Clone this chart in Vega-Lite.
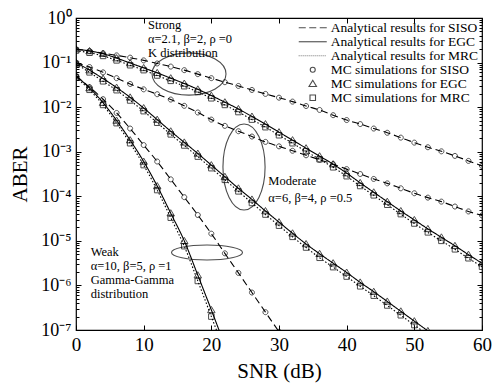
{
 "$schema": "https://vega.github.io/schema/vega-lite/v6.json",
 "width": 406, "height": 312,
 "autosize": "none",
 "padding": {"left": 76, "top": 18, "right": 11, "bottom": 56},
 "background": "white",
 "config": {
  "view": {"stroke": "black", "strokeWidth": 1.2},
  "font": "Liberation Serif",
  "axis": {"domain": false, "grid": false, "tickColor": "black", "tickWidth": 1, "labelColor": "black", "titleColor": "black", "labelFont": "Liberation Serif", "titleFont": "Liberation Serif", "titleFontWeight": "normal"}
 },
 "resolve": {"axis": {"x": "independent", "y": "independent"}},
 "datasets": {
  "curves": [
   {"g":"S","s":"SISO","x":0,"y":0.2},{"g":"S","s":"SISO","x":2,"y":0.182},{"g":"S","s":"SISO","x":4,"y":0.162},{"g":"S","s":"SISO","x":6,"y":0.145},{"g":"S","s":"SISO","x":8,"y":0.129},{"g":"S","s":"SISO","x":10,"y":0.112},{"g":"S","s":"SISO","x":12,"y":0.0955},{"g":"S","s":"SISO","x":14,"y":0.0813},{"g":"S","s":"SISO","x":16,"y":0.0676},{"g":"S","s":"SISO","x":18,"y":0.055},{"g":"S","s":"SISO","x":20,"y":0.0447},{"g":"S","s":"SISO","x":22,"y":0.0363},{"g":"S","s":"SISO","x":24,"y":0.0299},{"g":"S","s":"SISO","x":26,"y":0.0243},{"g":"S","s":"SISO","x":28,"y":0.0198},{"g":"S","s":"SISO","x":30,"y":0.0163},{"g":"S","s":"SISO","x":32,"y":0.0133},{"g":"S","s":"SISO","x":34,"y":0.0106},{"g":"S","s":"SISO","x":36,"y":0.00865},{"g":"S","s":"SISO","x":38,"y":0.0066},{"g":"S","s":"SISO","x":40,"y":0.00513},{"g":"S","s":"SISO","x":42,"y":0.00417},{"g":"S","s":"SISO","x":44,"y":0.00331},{"g":"S","s":"SISO","x":46,"y":0.00266},{"g":"S","s":"SISO","x":48,"y":0.00207},{"g":"S","s":"SISO","x":50,"y":0.0016},{"g":"S","s":"SISO","x":52,"y":0.00126},{"g":"S","s":"SISO","x":54,"y":0.00102},{"g":"S","s":"SISO","x":56,"y":0.000805},{"g":"S","s":"SISO","x":58,"y":0.000622},{"g":"S","s":"SISO","x":60,"y":0.000481},
   {"g":"S","s":"EGC","x":0,"y":0.2},{"g":"S","s":"EGC","x":2,"y":0.182},{"g":"S","s":"EGC","x":4,"y":0.158},{"g":"S","s":"EGC","x":6,"y":0.126},{"g":"S","s":"EGC","x":8,"y":0.0977},{"g":"S","s":"EGC","x":10,"y":0.0759},{"g":"S","s":"EGC","x":12,"y":0.0589},{"g":"S","s":"EGC","x":14,"y":0.0447},{"g":"S","s":"EGC","x":16,"y":0.0339},{"g":"S","s":"EGC","x":18,"y":0.0251},{"g":"S","s":"EGC","x":20,"y":0.0182},{"g":"S","s":"EGC","x":22,"y":0.0129},{"g":"S","s":"EGC","x":24,"y":0.00912},{"g":"S","s":"EGC","x":26,"y":0.00617},{"g":"S","s":"EGC","x":28,"y":0.00417},{"g":"S","s":"EGC","x":30,"y":0.00275},{"g":"S","s":"EGC","x":32,"y":0.00182},{"g":"S","s":"EGC","x":34,"y":0.0012},{"g":"S","s":"EGC","x":36,"y":0.000794},{"g":"S","s":"EGC","x":38,"y":0.000525},{"g":"S","s":"EGC","x":40,"y":0.000331},{"g":"S","s":"EGC","x":42,"y":0.0002},{"g":"S","s":"EGC","x":44,"y":0.000123},{"g":"S","s":"EGC","x":46,"y":7.59e-5},{"g":"S","s":"EGC","x":48,"y":4.68e-5},{"g":"S","s":"EGC","x":50,"y":2.95e-5},{"g":"S","s":"EGC","x":52,"y":1.86e-5},{"g":"S","s":"EGC","x":54,"y":1.2e-5},{"g":"S","s":"EGC","x":56,"y":7.76e-6},{"g":"S","s":"EGC","x":58,"y":4.9e-6},{"g":"S","s":"EGC","x":60,"y":3.16e-6},
   {"g":"S","s":"MRC","x":0,"y":0.186},{"g":"S","s":"MRC","x":2,"y":0.166},{"g":"S","s":"MRC","x":4,"y":0.141},{"g":"S","s":"MRC","x":6,"y":0.112},{"g":"S","s":"MRC","x":8,"y":0.0871},{"g":"S","s":"MRC","x":10,"y":0.0676},{"g":"S","s":"MRC","x":12,"y":0.0513},{"g":"S","s":"MRC","x":14,"y":0.0389},{"g":"S","s":"MRC","x":16,"y":0.0295},{"g":"S","s":"MRC","x":18,"y":0.0219},{"g":"S","s":"MRC","x":20,"y":0.0158},{"g":"S","s":"MRC","x":22,"y":0.0112},{"g":"S","s":"MRC","x":24,"y":0.00776},{"g":"S","s":"MRC","x":26,"y":0.00525},{"g":"S","s":"MRC","x":28,"y":0.00355},{"g":"S","s":"MRC","x":30,"y":0.00234},{"g":"S","s":"MRC","x":32,"y":0.00155},{"g":"S","s":"MRC","x":34,"y":0.00102},{"g":"S","s":"MRC","x":36,"y":0.000676},{"g":"S","s":"MRC","x":38,"y":0.000447},{"g":"S","s":"MRC","x":40,"y":0.000282},{"g":"S","s":"MRC","x":42,"y":0.00017},{"g":"S","s":"MRC","x":44,"y":0.000105},{"g":"S","s":"MRC","x":46,"y":6.46e-5},{"g":"S","s":"MRC","x":48,"y":3.98e-5},{"g":"S","s":"MRC","x":50,"y":2.45e-5},{"g":"S","s":"MRC","x":52,"y":1.55e-5},{"g":"S","s":"MRC","x":54,"y":1e-5},{"g":"S","s":"MRC","x":56,"y":6.46e-6},{"g":"S","s":"MRC","x":58,"y":4.07e-6},{"g":"S","s":"MRC","x":60,"y":2.63e-6},
   {"g":"M","s":"SISO","x":0,"y":0.1},{"g":"M","s":"SISO","x":2,"y":0.0794},{"g":"M","s":"SISO","x":4,"y":0.0603},{"g":"M","s":"SISO","x":6,"y":0.0447},{"g":"M","s":"SISO","x":8,"y":0.0331},{"g":"M","s":"SISO","x":10,"y":0.0251},{"g":"M","s":"SISO","x":12,"y":0.0195},{"g":"M","s":"SISO","x":14,"y":0.0148},{"g":"M","s":"SISO","x":16,"y":0.0107},{"g":"M","s":"SISO","x":18,"y":0.00759},{"g":"M","s":"SISO","x":20,"y":0.00525},{"g":"M","s":"SISO","x":22,"y":0.0038},{"g":"M","s":"SISO","x":24,"y":0.00288},{"g":"M","s":"SISO","x":26,"y":0.00219},{"g":"M","s":"SISO","x":28,"y":0.00166},{"g":"M","s":"SISO","x":30,"y":0.00132},{"g":"M","s":"SISO","x":32,"y":0.00105},{"g":"M","s":"SISO","x":34,"y":0.000832},{"g":"M","s":"SISO","x":36,"y":0.000661},{"g":"M","s":"SISO","x":38,"y":0.000525},{"g":"M","s":"SISO","x":40,"y":0.000407},{"g":"M","s":"SISO","x":42,"y":0.000316},{"g":"M","s":"SISO","x":44,"y":0.000245},{"g":"M","s":"SISO","x":46,"y":0.000195},{"g":"M","s":"SISO","x":48,"y":0.000151},{"g":"M","s":"SISO","x":50,"y":0.000117},{"g":"M","s":"SISO","x":52,"y":9.33e-5},{"g":"M","s":"SISO","x":54,"y":7.59e-5},{"g":"M","s":"SISO","x":56,"y":5.89e-5},{"g":"M","s":"SISO","x":58,"y":4.57e-5},{"g":"M","s":"SISO","x":60,"y":3.72e-5},
   {"g":"M","s":"EGC","x":0,"y":0.1},{"g":"M","s":"EGC","x":2,"y":0.0676},{"g":"M","s":"EGC","x":4,"y":0.0437},{"g":"M","s":"EGC","x":6,"y":0.0275},{"g":"M","s":"EGC","x":8,"y":0.0166},{"g":"M","s":"EGC","x":10,"y":0.00955},{"g":"M","s":"EGC","x":12,"y":0.00525},{"g":"M","s":"EGC","x":14,"y":0.00288},{"g":"M","s":"EGC","x":16,"y":0.00162},{"g":"M","s":"EGC","x":18,"y":0.000912},{"g":"M","s":"EGC","x":20,"y":0.000501},{"g":"M","s":"EGC","x":22,"y":0.000275},{"g":"M","s":"EGC","x":24,"y":0.000151},{"g":"M","s":"EGC","x":26,"y":8.51e-5},{"g":"M","s":"EGC","x":28,"y":4.68e-5},{"g":"M","s":"EGC","x":30,"y":2.63e-5},{"g":"M","s":"EGC","x":32,"y":1.48e-5},{"g":"M","s":"EGC","x":34,"y":8.51e-6},{"g":"M","s":"EGC","x":36,"y":5.13e-6},{"g":"M","s":"EGC","x":38,"y":3.16e-6},{"g":"M","s":"EGC","x":40,"y":1.95e-6},{"g":"M","s":"EGC","x":42,"y":1.17e-6},{"g":"M","s":"EGC","x":44,"y":7.24e-7},{"g":"M","s":"EGC","x":46,"y":4.37e-7},{"g":"M","s":"EGC","x":48,"y":2.63e-7},{"g":"M","s":"EGC","x":50,"y":1.58e-7},{"g":"M","s":"EGC","x":52,"y":9.55e-8},{"g":"M","s":"EGC","x":54,"y":5.75e-8},
   {"g":"M","s":"MRC","x":0,"y":0.0933},{"g":"M","s":"MRC","x":2,"y":0.0603},{"g":"M","s":"MRC","x":4,"y":0.038},{"g":"M","s":"MRC","x":6,"y":0.024},{"g":"M","s":"MRC","x":8,"y":0.0141},{"g":"M","s":"MRC","x":10,"y":0.00813},{"g":"M","s":"MRC","x":12,"y":0.00447},{"g":"M","s":"MRC","x":14,"y":0.00245},{"g":"M","s":"MRC","x":16,"y":0.00138},{"g":"M","s":"MRC","x":18,"y":0.000776},{"g":"M","s":"MRC","x":20,"y":0.000427},{"g":"M","s":"MRC","x":22,"y":0.000234},{"g":"M","s":"MRC","x":24,"y":0.000129},{"g":"M","s":"MRC","x":26,"y":7.08e-5},{"g":"M","s":"MRC","x":28,"y":3.89e-5},{"g":"M","s":"MRC","x":30,"y":2.19e-5},{"g":"M","s":"MRC","x":32,"y":1.23e-5},{"g":"M","s":"MRC","x":34,"y":7.08e-6},{"g":"M","s":"MRC","x":36,"y":4.17e-6},{"g":"M","s":"MRC","x":38,"y":2.57e-6},{"g":"M","s":"MRC","x":40,"y":1.58e-6},{"g":"M","s":"MRC","x":42,"y":9.55e-7},{"g":"M","s":"MRC","x":44,"y":5.89e-7},{"g":"M","s":"MRC","x":46,"y":3.55e-7},{"g":"M","s":"MRC","x":48,"y":2.14e-7},{"g":"M","s":"MRC","x":50,"y":1.29e-7},{"g":"M","s":"MRC","x":52,"y":7.76e-8},
   {"g":"W","s":"SISO","x":0,"y":0.0501},{"g":"W","s":"SISO","x":2,"y":0.0282},{"g":"W","s":"SISO","x":4,"y":0.0151},{"g":"W","s":"SISO","x":6,"y":0.00741},{"g":"W","s":"SISO","x":8,"y":0.00331},{"g":"W","s":"SISO","x":10,"y":0.00141},{"g":"W","s":"SISO","x":12,"y":0.000603},{"g":"W","s":"SISO","x":14,"y":0.00024},{"g":"W","s":"SISO","x":16,"y":9.55e-5},{"g":"W","s":"SISO","x":18,"y":3.8e-5},{"g":"W","s":"SISO","x":20,"y":1.45e-5},{"g":"W","s":"SISO","x":22,"y":5.25e-6},{"g":"W","s":"SISO","x":24,"y":1.91e-6},{"g":"W","s":"SISO","x":26,"y":6.92e-7},{"g":"W","s":"SISO","x":28,"y":2.51e-7},{"g":"W","s":"SISO","x":30,"y":9.12e-8},{"g":"W","s":"SISO","x":32,"y":3.31e-8},
   {"g":"W","s":"EGC","x":0,"y":0.0501},{"g":"W","s":"EGC","x":2,"y":0.0269},{"g":"W","s":"EGC","x":4,"y":0.0126},{"g":"W","s":"EGC","x":6,"y":0.00501},{"g":"W","s":"EGC","x":8,"y":0.00182},{"g":"W","s":"EGC","x":10,"y":0.000603},{"g":"W","s":"EGC","x":12,"y":0.00017},{"g":"W","s":"EGC","x":14,"y":4.17e-5},{"g":"W","s":"EGC","x":16,"y":1e-5},{"g":"W","s":"EGC","x":18,"y":1.7e-6},{"g":"W","s":"EGC","x":20,"y":2.82e-7},{"g":"W","s":"EGC","x":22,"y":4.47e-8},
   {"g":"W","s":"MRC","x":0,"y":0.0468},{"g":"W","s":"MRC","x":2,"y":0.0245},{"g":"W","s":"MRC","x":4,"y":0.0112},{"g":"W","s":"MRC","x":6,"y":0.00437},{"g":"W","s":"MRC","x":8,"y":0.00155},{"g":"W","s":"MRC","x":10,"y":0.000501},{"g":"W","s":"MRC","x":12,"y":0.000138},{"g":"W","s":"MRC","x":14,"y":3.31e-5},{"g":"W","s":"MRC","x":16,"y":7.59e-6},{"g":"W","s":"MRC","x":18,"y":1.26e-6},{"g":"W","s":"MRC","x":20,"y":2e-7},{"g":"W","s":"MRC","x":22,"y":3.16e-8}
  ],
  "notes": [
   {"t":"Strong","x":10.64,"y":0.581},
   {"t":"α=2.1, β=2, ρ =0","x":10.64,"y":0.282},
   {"t":"K distribution","x":10.64,"y":0.1368},
   {"t":"Moderate","x":28.42,"y":1.79e-4},
   {"t":"α=6, β=4, ρ =0.5","x":28.42,"y":7.55e-5},
   {"t":"Weak","x":2.17,"y":4.57e-6},
   {"t":"α=10, β=5, ρ =1","x":2.17,"y":2.22e-6},
   {"t":"Gamma-Gamma","x":2.17,"y":1.08e-6},
   {"t":"distribution","x":2.17,"y":5.22e-7}
  ],
  "ellipses": [
   {"e":"strong","x":16.7,"y":0.0554},
   {"e":"moderate","x":24.83,"y":4.54e-4},
   {"e":"weak","x":19.36,"y":5.48e-6}
  ]
 },
 "layer": [
  {
   "data": {"name": "curves"},
   "mark": {"type": "line", "color": "black", "strokeWidth": 1.1, "clip": true, "interpolate": "monotone"},
   "encoding": {
    "x": {"field": "x", "type": "quantitative", "scale": {"domain": [0, 60], "nice": false, "zero": false},
          "axis": {"orient": "bottom", "values": [0, 10, 20, 30, 40, 50, 60], "tickSize": -5, "labelPadding": 10, "labelFontSize": 19, "labelFlush": false, "title": "SNR (dB)", "titleFontSize": 21, "titlePadding": 6}},
    "y": {"field": "y", "type": "quantitative", "scale": {"type": "log", "domain": [1e-7, 1], "nice": false},
          "axis": {"orient": "left", "values": [1e-7, 1e-6, 1e-5, 1e-4, 1e-3, 1e-2, 1e-1, 1], "tickSize": -5, "labelPadding": 10, "labelFontSize": 18,
                   "labelExpr": "datum.value >= 0.5 ? '10⁰' : datum.value >= 0.05 ? '10⁻¹' : datum.value >= 0.005 ? '10⁻²' : datum.value >= 0.0005 ? '10⁻³' : datum.value >= 0.00005 ? '10⁻⁴' : datum.value >= 0.000005 ? '10⁻⁵' : datum.value >= 0.0000005 ? '10⁻⁶' : '10⁻⁷'",
                   "title": "ABER", "titleFontSize": 21, "titlePadding": 10}},
    "detail": {"field": "g"},
    "strokeDash": {"field": "s", "type": "nominal", "scale": {"domain": ["SISO", "EGC", "MRC"], "range": [[7, 4], [1, 0], [1.5, 2]]}, "legend": null}
   }
  },
  {
   "data": {"name": "curves"},
   "mark": {"type": "point", "color": "black", "filled": false, "size": 25, "strokeWidth": 1, "clip": true},
   "encoding": {
    "x": {"field": "x", "type": "quantitative", "scale": {"domain": [0, 60], "nice": false, "zero": false},
          "axis": {"orient": "top", "values": [0, 10, 20, 30, 40, 50, 60], "tickSize": -5, "labels": false, "title": null}},
    "y": {"field": "y", "type": "quantitative", "scale": {"type": "log", "domain": [1e-7, 1], "nice": false},
          "axis": {"orient": "right", "values": [1e-7, 1e-6, 1e-5, 1e-4, 1e-3, 1e-2, 1e-1, 1], "tickSize": -5, "labels": false, "title": null}},
    "shape": {"field": "s", "type": "nominal",
              "scale": {"domain": ["aSISO", "aEGC", "aMRC", "SISO", "EGC", "MRC"],
                        "range": ["M-5.6,0H-2.8M-1.4,0H1.4M2.8,0H5.6", "M-5.6,0H5.6", "M-5.6,0h0.3M-4.8,0h0.3M-4,0h0.3M-3.2,0h0.3M-2.4,0h0.3M-1.6,0h0.3M-0.8,0h0.3M0,0h0.3M0.8,0h0.3M1.6,0h0.3M2.4,0h0.3M3.2,0h0.3M4,0h0.3M4.8,0h0.3", "M-1,0A1,1,0,1,1,1,0A1,1,0,1,1,-1,0Z", "M0,-1.4L1.5,1.1L-1.5,1.1Z", "M-1.1,-1.1H1.1V1.1H-1.1Z"]},
              "legend": {"orient": "top-right", "offset": 3, "padding": 0, "title": null, "direction": "vertical", "columns": 1,
                         "labelFont": "Liberation Serif", "labelFontSize": 13.5, "labelColor": "black",
                         "symbolSize": 25, "symbolStrokeWidth": 1.1, "symbolStrokeColor": "black", "symbolFillColor": "transparent",
                         "rowPadding": -4, "labelOffset": 11.2,
                         "labelExpr": "datum.index < 3 ? 'Analytical results for ' + slice(datum.label, 1) : 'MC simulations for ' + datum.label"}}
   }
  },
  {
   "data": {"name": "notes"},
   "mark": {"type": "text", "align": "left", "baseline": "alphabetic", "fontSize": 12.5, "font": "Liberation Serif", "color": "black"},
   "encoding": {
    "x": {"field": "x", "type": "quantitative", "scale": {"domain": [0, 60], "nice": false, "zero": false}, "axis": null},
    "y": {"field": "y", "type": "quantitative", "scale": {"type": "log", "domain": [1e-7, 1], "nice": false},
          "axis": {"orient": "left", "values": [2e-7,3e-7,4e-7,5e-7,6e-7,7e-7,8e-7,9e-7,2e-6,3e-6,4e-6,5e-6,6e-6,7e-6,8e-6,9e-6,2e-5,3e-5,4e-5,5e-5,6e-5,7e-5,8e-5,9e-5,2e-4,3e-4,4e-4,5e-4,6e-4,7e-4,8e-4,9e-4,0.002,0.003,0.004,0.005,0.006,0.007,0.008,0.009,0.02,0.03,0.04,0.05,0.06,0.07,0.08,0.09,0.2,0.3,0.4,0.5,0.6,0.7,0.8,0.9], "tickSize": -3, "labels": false, "title": null}},
    "text": {"field": "t"}
   }
  },
  {
   "data": {"name": "ellipses"},
   "transform": [{"filter": "datum.e == 'strong'"}],
   "mark": {"type": "point", "shape": "M-1,0A1,0.57,0,1,1,1,0A1,0.57,0,1,1,-1,0Z", "size": 5476, "filled": false, "color": "black", "strokeWidth": 1.1},
   "encoding": {
    "x": {"field": "x", "type": "quantitative", "scale": {"domain": [0, 60], "nice": false, "zero": false}, "axis": null},
    "y": {"field": "y", "type": "quantitative", "scale": {"type": "log", "domain": [1e-7, 1], "nice": false},
          "axis": {"orient": "right", "values": [2e-7,3e-7,4e-7,5e-7,6e-7,7e-7,8e-7,9e-7,2e-6,3e-6,4e-6,5e-6,6e-6,7e-6,8e-6,9e-6,2e-5,3e-5,4e-5,5e-5,6e-5,7e-5,8e-5,9e-5,2e-4,3e-4,4e-4,5e-4,6e-4,7e-4,8e-4,9e-4,0.002,0.003,0.004,0.005,0.006,0.007,0.008,0.009,0.02,0.03,0.04,0.05,0.06,0.07,0.08,0.09,0.2,0.3,0.4,0.5,0.6,0.7,0.8,0.9], "tickSize": -3, "labels": false, "title": null}}
   }
  },
  {
   "data": {"name": "ellipses"},
   "transform": [{"filter": "datum.e == 'moderate'"}],
   "mark": {"type": "point", "shape": "M0,-1A0.49,1,0,1,1,0,1A0.49,1,0,1,1,0,-1Z", "size": 7396, "filled": false, "color": "black", "strokeWidth": 1.1},
   "encoding": {
    "x": {"field": "x", "type": "quantitative", "scale": {"domain": [0, 60], "nice": false, "zero": false}, "axis": null},
    "y": {"field": "y", "type": "quantitative", "scale": {"type": "log", "domain": [1e-7, 1], "nice": false}, "axis": null}
   }
  },
  {
   "data": {"name": "ellipses"},
   "transform": [{"filter": "datum.e == 'weak'"}],
   "mark": {"type": "point", "shape": "M-1,0A1,0.21,0,1,1,1,0A1,0.21,0,1,1,-1,0Z", "size": 5041, "filled": false, "color": "black", "strokeWidth": 1.1},
   "encoding": {
    "x": {"field": "x", "type": "quantitative", "scale": {"domain": [0, 60], "nice": false, "zero": false}, "axis": null},
    "y": {"field": "y", "type": "quantitative", "scale": {"type": "log", "domain": [1e-7, 1], "nice": false}, "axis": null}
   }
  }
 ]
}
